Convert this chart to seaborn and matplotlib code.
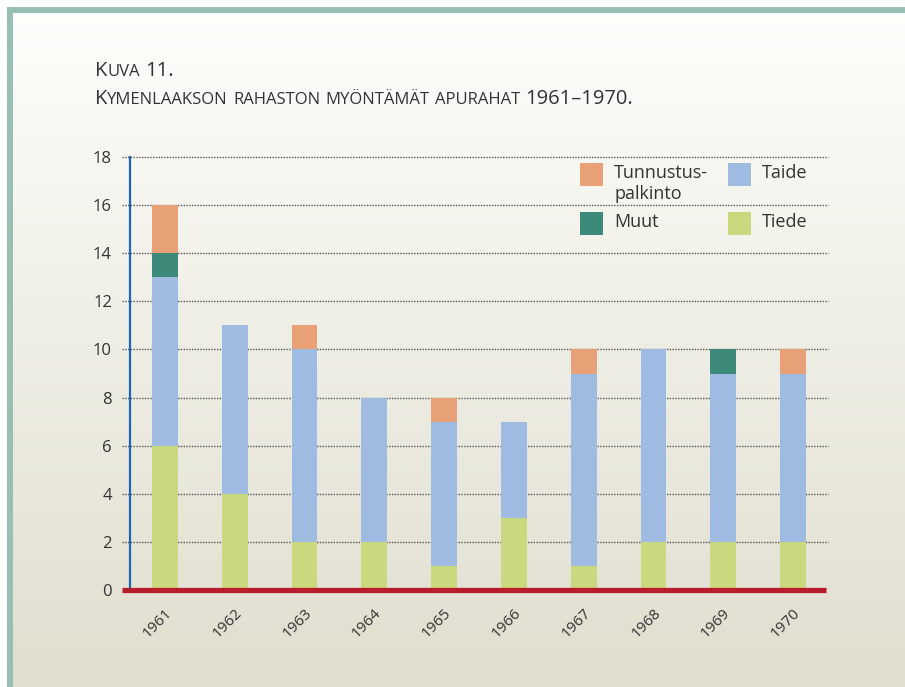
import numpy as np
import pandas as pd
import matplotlib
matplotlib.use('Agg')
import matplotlib.pyplot as plt
import matplotlib.transforms as mtransforms
from matplotlib.patches import Rectangle
import seaborn as sns

# data
years = ['1961', '1962', '1963', '1964', '1965', '1966', '1967', '1968', '1969', '1970']
tiede = [6, 4, 2, 2, 1, 3, 1, 2, 2, 2]
taide = [7, 7, 8, 6, 6, 4, 8, 8, 7, 7]
muut = [1, 0, 0, 0, 0, 0, 0, 0, 1, 0]
tunnustus = [2, 0, 1, 0, 1, 0, 1, 0, 0, 1]

series_names = ['Tiede', 'Taide', 'Muut', 'Tunnustus-\npalkinto']
colors = {'Tiede': '#cbd97e', 'Taide': '#a0bbe2', 'Muut': '#3e8a7a',
          'Tunnustus-\npalkinto': '#e8a076'}

W, H = 905, 687
FONT = 'Open Sans'
TXT = '#333333'

sns.set_theme(style='white')
plt.rcParams['font.family'] = [FONT, 'DejaVu Sans']

df = pd.DataFrame({'year': years, 'Tiede': tiede, 'Taide': taide,
                   'Muut': muut, 'Tunnustus-\npalkinto': tunnustus})
cum = df[series_names].cumsum(axis=1)
cum['year'] = df['year']

fig = plt.figure(figsize=(W / 100, H / 100), dpi=100)

# background gradient + frame
bg = fig.add_axes([0, 0, 1, 1], zorder=-5)
top = np.array([254, 254, 252]) / 255
bot = np.array([224, 222, 206]) / 255
t = np.linspace(0, 1, 300)[:, None]
grad = (top + (bot - top) * t)[:, None, :]
bg.imshow(grad, aspect='auto', extent=[0, 1, 0, 1])
bg.set_xlim(0, 1)
bg.set_ylim(0, 1)
bg.axis('off')
frame = '#97bfb4'
bg.add_patch(Rectangle((0, 1 - 7 / H), 1, 7 / H, color='white', lw=0))
bg.add_patch(Rectangle((0, 0), 7 / W, 1, color='white', lw=0))
bg.add_patch(Rectangle((7 / W, 1 - 13 / H), 1, 6 / H, color=frame, lw=0))
bg.add_patch(Rectangle((7 / W, 0), 6 / W, 1 - 7 / H, color=frame, lw=0))

ax = fig.add_axes([130 / W, 1 - 590 / H, 698 / W, 433 / H])
ax.set_facecolor('none')

# stacked bars: draw cumulative totals from the top layer down
for name in reversed(series_names):
    sns.barplot(data=cum, x='year', y=name, color=colors[name], width=0.37,
                saturation=1, ax=ax, zorder=3, linewidth=0)

ax.set_ylim(0, 18)
ax.set_xlim(-0.5, 9.5)
ax.set_yticks(range(0, 19, 2))
ax.set_xlabel('')
ax.set_ylabel('')
for s in ['top', 'right', 'bottom']:
    ax.spines[s].set_visible(False)
ax.spines['left'].set_color('#1a66b8')
ax.spines['left'].set_linewidth(1.6)
ax.spines['left'].set_zorder(4)

for yv in range(2, 19, 2):
    ax.axhline(yv, xmin=-8 / 698, xmax=1, color='#555555', lw=1,
               ls=(0, (1, 1)), clip_on=False, zorder=1)
ax.axhline(0, xmin=-8 / 698, xmax=1 - 2 / 698, color='#b71c2a', lw=3.8,
           clip_on=False, zorder=5, solid_capstyle='butt')

ax.tick_params(axis='y', length=0, pad=13, labelsize=12, labelcolor=TXT)
ax.tick_params(axis='x', length=0, pad=15, labelsize=11, labelcolor=TXT)
off = mtransforms.ScaledTranslation(0.05, 0, fig.dpi_scale_trans)
for lab in ax.get_xticklabels():
    lab.set_rotation(45)
    lab.set_ha('right')
    lab.set_va('center')
    lab.set_rotation_mode('anchor')
    lab.set_transform(lab.get_transform() + off)


def px(x, y):
    return x / W, 1 - y / H


# legend (2x2, no frame)
leg = [('Tunnustus-\npalkinto', 580, 163, 614), ('Taide', 728, 163, 762),
       ('Muut', 580, 212, 614), ('Tiede', 728, 212, 762)]
for name, sx, sy, tx in leg:
    x0, y0 = px(sx, sy + 23)
    fig.patches.append(Rectangle((x0, y0), 23 / W, 23 / H, color=colors[name],
                                 transform=fig.transFigure, lw=0, zorder=6))
    fig.text(*px(tx, sy + 1), name, fontsize=13, color=TXT, va='top',
             ha='left', linespacing=1.2)


# small-caps title
renderer = fig.canvas.get_renderer()


def smallcaps(x, y, s, size, small):
    space = None
    for i, word in enumerate(s.split(' ')):
        if i > 0:
            x += space
        runs = []
        for ch in word:
            low = ch.islower()
            if runs and runs[-1][1] == low:
                runs[-1][0] += ch
            else:
                runs.append([ch, low])
        for txt, low in runs:
            tt = fig.text(*px(x, y), txt.upper(), fontsize=small if low else size,
                          color=TXT, va='baseline', ha='left')
            x += tt.get_window_extent(renderer).width
        if space is None:
            a = fig.text(0, 0, 'a a', fontsize=size)
            b = fig.text(0, 0, 'aa', fontsize=size)
            space = a.get_window_extent(renderer).width - b.get_window_extent(renderer).width
            a.remove()
            b.remove()


smallcaps(95, 76, 'Kuva 11.', 14.5, 12)
smallcaps(95, 104, 'Kymenlaakson rahaston myöntämät apurahat 1961–1970.', 14.5, 12)

fig.savefig('out.png', dpi=100)
